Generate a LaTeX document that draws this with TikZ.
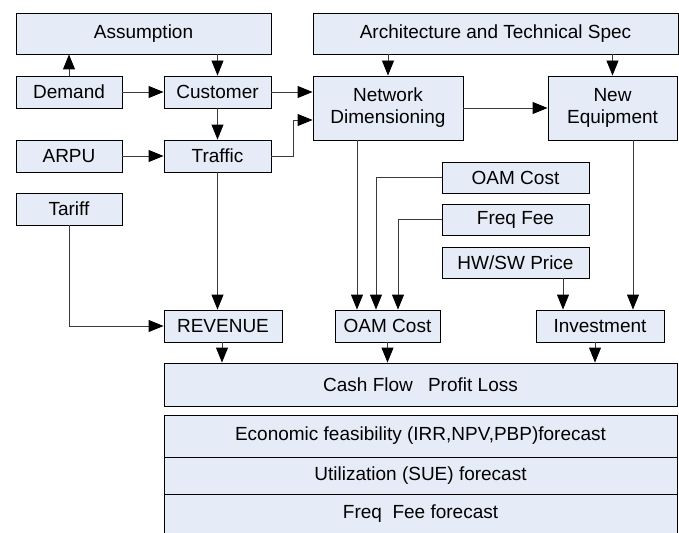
\documentclass[tikz,border=0pt]{standalone}
\usepackage{fontspec}
\setmainfont{Liberation Sans}
\usepackage{tikz}
\usetikzlibrary{arrows.meta,positioning,calc}
\definecolor{boxfill}{HTML}{E6ECF7}
\definecolor{wire}{HTML}{3A3A3A}

\tikzset{
  blk/.style={draw=black,fill=boxfill,line width=0.9pt,inner sep=0pt,align=center,
    font=\fontsize{19}{22}\selectfont},
  arr/.style={draw=wire,line width=0.9pt,-{Triangle[width=12pt,length=15pt,color=black]}},
  ln/.style={draw=wire,line width=0.9pt}
}

\begin{document}
\begin{tikzpicture}[x=1pt,y=-1pt]
\useasboundingbox (0,0) rectangle (679,532);
% top row
\node[blk,minimum width=255pt,minimum height=41pt] (assum) at (143.5,33.5) {Assumption};
\node[blk,minimum width=365pt,minimum height=41pt] (arch) at (495.5,33.5) {Architecture and Technical Spec};
% market side
\node[blk,minimum width=106pt,minimum height=32pt] (demand) at (69,92) {Demand};
\node[blk,minimum width=107pt,minimum height=32pt] (cust) at (217.5,92) {Customer};
\node[blk,minimum width=106pt,minimum height=32pt] (arpu) at (69,156) {ARPU};
\node[blk,minimum width=107pt,minimum height=32pt] (traffic) at (217.5,156) {Traffic};
\node[blk,minimum width=106pt,minimum height=32pt] (tariff) at (69,209) {Tariff};
\node[blk,minimum width=118pt,minimum height=32pt] (revenue) at (223,326) {REVENUE};
% network side
\node[blk,minimum width=150pt,minimum height=64pt] (netdim) at (388,108) {Network\\Dimensioning};
\node[blk,minimum width=129pt,minimum height=64pt] (neweq) at (612.5,108) {New\\Equipment};
\node[blk,minimum width=147pt,minimum height=31pt] (oamin) at (515.5,177.5) {OAM Cost};
\node[blk,minimum width=147pt,minimum height=31pt] (freq) at (515.5,219.5) {Freq Fee};
\node[blk,minimum width=147pt,minimum height=31pt] (hwsw) at (515.5,262.5) {HW/SW Price};
\node[blk,minimum width=105pt,minimum height=32pt] (oam) at (387.5,326) {OAM Cost};
\node[blk,minimum width=128pt,minimum height=32pt] (invest) at (600,326) {Investment};
% results
\node[blk,minimum width=513pt,minimum height=43pt] (cash) at (420.5,384.5) {Cash Flow\hspace{0.8em}Profit Loss};
\node[blk,minimum width=513pt,minimum height=42pt] (econ) at (420.5,436) {Economic feasibility (IRR,NPV,PBP)forecast};
\node[blk,minimum width=513pt,minimum height=37pt] (util) at (420.5,475.5) {Utilization (SUE) forecast};
\node[blk,minimum width=513pt,minimum height=40pt] (ffc) at (420.5,514) {Freq\ \ Fee forecast};

% connectors
\draw[arr] (demand.north) -- (demand.north |- assum.south);
\draw[arr] (cust.north |- assum.south) -- (cust.north);
\draw[arr] (demand.east) -- (cust.west);
\draw[arr] (cust.east) -- (netdim.west |- cust.east);
\draw[arr] (cust.south) -- (traffic.north);
\draw[arr] (arpu.east) -- (traffic.west);
\draw[arr] (traffic.east) -- ++(22,0) |- ([yshift=-12pt]netdim.west);
\draw[arr] (traffic.south) -- (traffic.south |- revenue.north);
\draw[arr] (tariff.south) |- (revenue.west);
\draw[arr] (netdim.north |- arch.south) -- (netdim.north);
\draw[arr] (neweq.north |- arch.south) -- (neweq.north);
\draw[arr] (netdim.east) -- (neweq.west);
\draw[arr] ([xshift=-31pt]netdim.south) -- ([xshift=-31pt]netdim.south |- oam.north);
\draw[arr] (oamin.west) -| ([xshift=-11.5pt]oam.north);
\draw[arr] (freq.west) -| ([xshift=10.5pt]oam.north);
\draw[arr] ([xshift=47.5pt]hwsw.south) -- ([xshift=47.5pt]hwsw.south |- invest.north);
\draw[arr] ([xshift=20.5pt]neweq.south) -- ([xshift=20.5pt]neweq.south |- invest.north);
\draw[arr] ([xshift=-1pt]revenue.south) -- ([xshift=-1pt]revenue.south |- cash.north);
\draw[arr] (oam.south) -- (oam.south |- cash.north);
\draw[arr] ([xshift=-5pt]invest.south) -- ([xshift=-5pt]invest.south |- cash.north);
\end{tikzpicture}
\end{document}
